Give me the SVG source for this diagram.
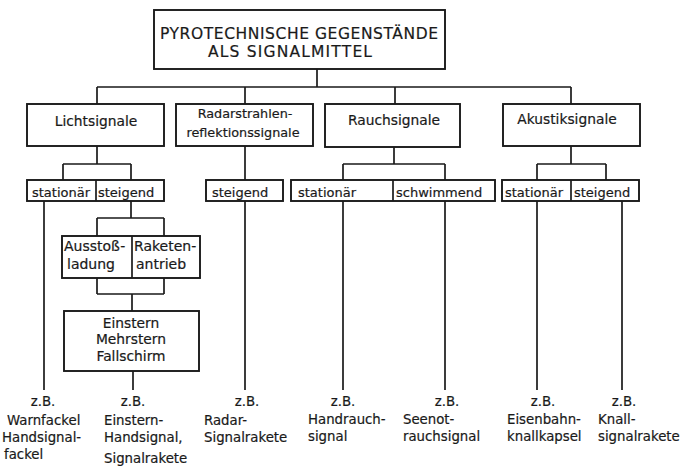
<svg xmlns="http://www.w3.org/2000/svg" width="681" height="469" viewBox="0 0 681 469">
<style>
  .box { fill: #fff; stroke: #1a1a1a; stroke-width: 1.9; }
  .ln { fill: none; stroke: #1a1a1a; stroke-width: 1.7; }
  text { font-family: "DejaVu Sans", "Liberation Sans", sans-serif; fill: #1a1a1a; stroke: #1a1a1a; stroke-width: 0.2; }
  .top { font-size: 15.5px; }
  .cat { font-size: 13.8px; text-anchor: middle; }
  .sub { font-size: 13px; }
  .mid { text-anchor: middle; }
  .lab { font-size: 13.3px; }
</style>
<rect width="681" height="469" fill="#fff"/>

<g id="connectors">
  <path class="ln" d="M317 69 V87 M97 87 H571 M97 87 V104 M245 87 V104 M395 87 V104 M571 87 V104"/>
  <path class="ln" d="M97 146 V164 M63 164 H131 M63 164 V180 M131 164 V180"/>
  <path class="ln" d="M44 201 V390"/>
  <path class="ln" d="M131 201 V218 M97 218 H164 M97 218 V236 M164 218 V236"/>
  <path class="ln" d="M97 278 V294 M164 278 V294 M97 294 H164 M132 294 V311"/>
  <path class="ln" d="M133 371 V390"/>
  <path class="ln" d="M245 146 V180 M245 201 V390"/>
  <path class="ln" d="M394 147 V164 M343 164 H445 M343 164 V180 M445 164 V180"/>
  <path class="ln" d="M343 201 V390 M445 201 V390"/>
  <path class="ln" d="M571 146 V164 M537 164 H606 M537 164 V180 M606 164 V180"/>
  <path class="ln" d="M537 201 V390 M622 201 V390"/>
</g>

<g id="root">
  <rect class="box" x="154" y="10" width="291" height="59"/>
  <text class="top" x="160" y="39" textLength="278" lengthAdjust="spacing">PYROTECHNISCHE GEGENSTÄNDE</text>
  <text class="top" x="208" y="57" textLength="164" lengthAdjust="spacing">ALS SIGNALMITTEL</text>
</g>

<g id="lichtsignale">
  <rect class="box" x="27" y="104" width="137" height="42"/>
  <text class="cat" x="96" y="126">Lichtsignale</text>
</g>
<g id="radar">
  <rect class="box" x="176" y="104" width="137" height="42"/>
  <text class="cat" x="245" y="118" style="font-size:12.8px">Radarstrahlen-</text>
  <text class="cat" x="243" y="137" style="font-size:12.8px">reflektionssignale</text>
</g>
<g id="rauchsignale">
  <rect class="box" x="325" y="104" width="135" height="43"/>
  <text class="cat" x="394" y="125">Rauchsignale</text>
</g>
<g id="akustiksignale">
  <rect class="box" x="503" y="104" width="137" height="42"/>
  <text class="cat" x="567" y="124">Akustiksignale</text>
</g>

<g id="licht-sub">
  <rect class="box" x="27" y="180" width="137" height="21"/>
  <line class="ln" x1="96" y1="180" x2="96" y2="201"/>
  <text class="sub" x="32" y="197">stationär</text>
  <text class="sub" x="98" y="197">steigend</text>
</g>
<g id="radar-sub">
  <rect class="box" x="206" y="180" width="77" height="21"/>
  <text class="sub" x="212" y="197">steigend</text>
</g>
<g id="rauch-sub">
  <rect class="box" x="291" y="180" width="204" height="21"/>
  <line class="ln" x1="393" y1="180" x2="393" y2="201"/>
  <text class="sub" x="298" y="197">stationär</text>
  <text class="sub" x="396" y="197">schwimmend</text>
</g>
<g id="akustik-sub">
  <rect class="box" x="502" y="180" width="137" height="21"/>
  <line class="ln" x1="571" y1="180" x2="571" y2="201"/>
  <text class="sub" x="505" y="197">stationär</text>
  <text class="sub" x="574" y="197">steigend</text>
</g>

<g id="antrieb">
  <rect class="box" x="62" y="236" width="138" height="42"/>
  <line class="ln" x1="132" y1="236" x2="132" y2="278"/>
  <text class="sub" x="64" y="251" style="font-size:14px">Ausstoß-</text>
  <text class="sub" x="67" y="269" style="font-size:14px">ladung</text>
  <text class="sub" x="134" y="251" style="font-size:14px">Raketen-</text>
  <text class="sub" x="136" y="269" style="font-size:14px">antrieb</text>
</g>

<g id="stern">
  <rect class="box" x="64" y="311" width="135" height="60"/>
  <text class="cat" x="131" y="328">Einstern</text>
  <text class="cat" x="131" y="344">Mehrstern</text>
  <text class="cat" x="131" y="361">Fallschirm</text>
</g>

<g id="labels" class="lab">
  <text class="mid" x="43" y="406">z.B.</text>
  <text x="7" y="425">Warnfackel</text>
  <text x="2" y="442">Handsignal-</text>
  <text x="4" y="459">fackel</text>

  <text class="mid" x="133" y="406">z.B.</text>
  <text x="104" y="425">Einstern-</text>
  <text x="104" y="442">Handsignal,</text>
  <text x="104" y="463">Signalrakete</text>

  <text class="mid" x="247" y="406">z.B.</text>
  <text x="204" y="425">Radar-</text>
  <text x="204" y="442">Signalrakete</text>

  <text class="mid" x="343" y="406">z.B.</text>
  <text x="308" y="424">Handrauch-</text>
  <text x="308" y="441">signal</text>

  <text class="mid" x="447" y="406">z.B.</text>
  <text x="403" y="424">Seenot-</text>
  <text x="403" y="441">rauchsignal</text>

  <text class="mid" x="543" y="406">z.B.</text>
  <text x="507" y="424">Eisenbahn-</text>
  <text x="507" y="441">knallkapsel</text>

  <text class="mid" x="624" y="406">z.B.</text>
  <text x="598" y="424">Knall-</text>
  <text x="598" y="441">signalrakete</text>
</g>
</svg>
